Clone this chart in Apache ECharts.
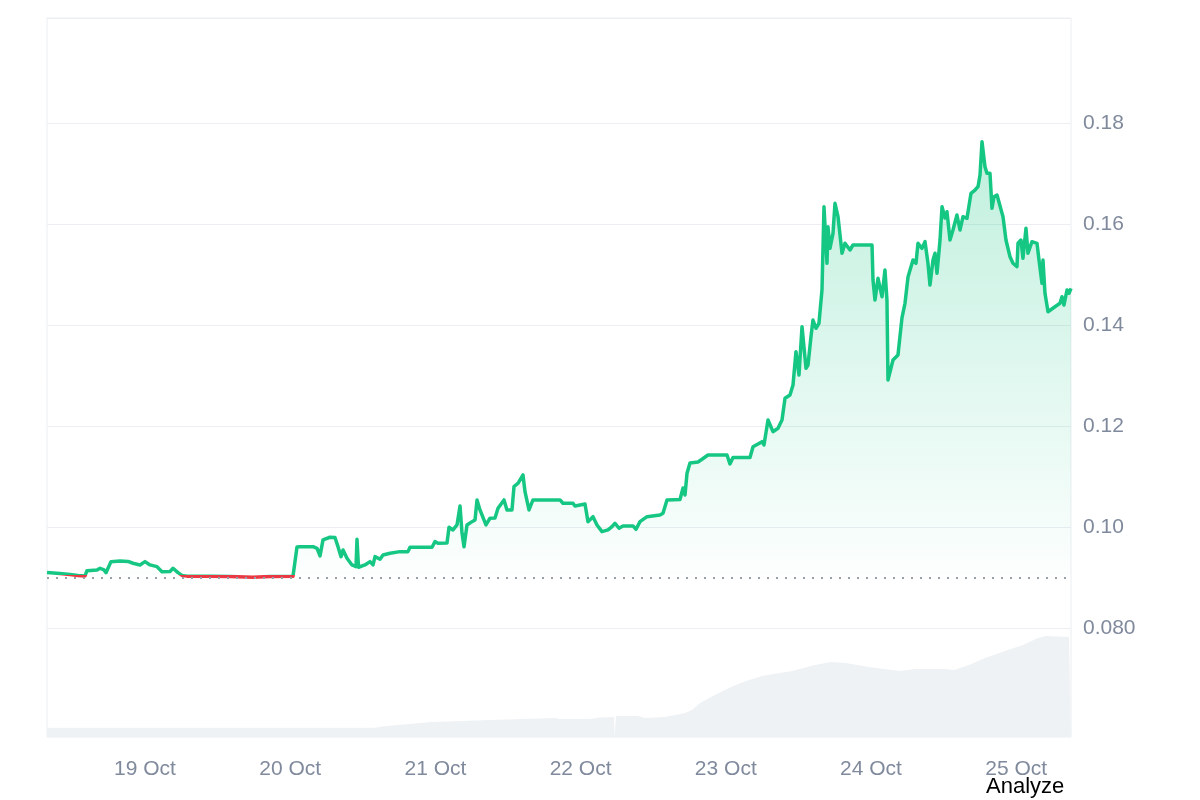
<!DOCTYPE html>
<html>
<head>
<meta charset="utf-8">
<title>Price 7d</title>
<script src="https://cdn.jsdelivr.net/npm/echarts@6/dist/echarts.min.js"></script>
<style>
html, body { margin: 0; padding: 0; background: #fff; }
#chart { width: 1200px; height: 800px; }
</style>
</head>
<body>
<div id="chart"></div>
<script>
// all times are hours after midnight of 18 Oct
var startYear = 2024, startMonth = 9, startDay = 18;
var axisStartHour = 7.8;
var axisEndHour = 177.06;
var basePrice = 0.0905;
var priceMin = 0.0584, priceMax = 0.2008;
var volumeAxisMax = 71.9;

var priceHours = [
    7.80, 9.95, 11.60, 12.93, 14.08, 14.41, 16.07, 16.56, 17.22, 17.55,
    18.38, 19.87, 21.19, 22.02, 23.17, 24.00, 24.83, 25.98, 26.81, 28.13,
    28.63, 29.45, 30.12, 30.94, 34.74, 38.05, 41.85, 44.66, 48.46, 49.12,
    49.62, 51.77, 52.43, 52.93, 53.42, 54.58, 55.40, 55.90, 56.40, 56.73,
    57.39, 58.21, 58.88, 59.04, 59.29, 60.36, 61.19, 61.69, 62.02, 62.84,
    63.34, 64.50, 66.15, 67.47, 67.80, 71.44, 71.93, 72.43, 73.92, 74.25,
    74.91, 75.57, 76.07, 76.40, 76.73, 77.22, 78.05, 78.55, 78.88, 79.37,
    80.36, 81.02, 81.85, 82.35, 83.34, 83.83, 84.66, 84.99, 85.65, 86.48,
    86.81, 87.47, 88.13, 92.60, 93.09, 94.74, 95.07, 96.73, 97.22, 98.05,
    98.71, 99.54, 100.53, 101.19, 101.69, 102.35, 103.01, 104.66, 105.16, 105.82,
    106.98, 109.12, 109.62, 110.28, 112.43, 112.93, 113.26, 113.59, 114.08, 115.40,
    116.07, 117.06, 120.20, 120.69, 121.19, 124.00, 124.50, 125.32, 125.98, 126.31,
    126.98, 127.80, 128.63, 129.29, 129.79, 130.61, 131.11, 131.60, 132.10, 132.60,
    133.26, 133.59, 134.08, 134.41, 134.91, 135.40, 135.90, 136.23, 136.73, 136.89,
    137.22, 137.72, 138.05, 138.55, 139.21, 139.70, 140.53, 141.02, 144.17, 144.33,
    144.66, 145.16, 145.82, 146.31, 146.64, 146.81, 147.14, 147.64, 148.46, 149.12,
    149.62, 150.12, 150.94, 151.44, 151.77, 152.43, 152.93, 153.42, 153.75, 154.25,
    154.58, 154.91, 155.41, 155.74, 156.23, 156.56, 157.06, 157.55, 158.21, 158.71,
    159.21, 159.87, 160.53, 161.19, 161.69, 162.02, 162.35, 162.84, 163.17, 163.67,
    164.00, 164.33, 164.83, 165.16, 165.82, 166.31, 166.98, 167.47, 168.13, 168.30,
    168.79, 169.12, 169.62, 169.95, 170.61, 171.44, 171.77, 172.26, 172.43, 172.76,
    173.26, 174.41, 175.24, 175.57, 175.90, 176.40, 176.73, 177.06
];
var prices = [
    0.09099, 0.09079, 0.09059, 0.09040, 0.09030, 0.09135, 0.09149, 0.09182, 0.09149, 0.09095,
    0.09313, 0.09327, 0.09317, 0.09281, 0.09248, 0.09313, 0.09248, 0.09214, 0.09115, 0.09119,
    0.09182, 0.09095, 0.09040, 0.09026, 0.09024, 0.09020, 0.09004, 0.09020, 0.09024, 0.09604,
    0.09610, 0.09610, 0.09578, 0.09426, 0.09743, 0.09796, 0.09792, 0.09610, 0.09412, 0.09545,
    0.09380, 0.09248, 0.09214, 0.09756, 0.09202, 0.09248, 0.09313, 0.09248, 0.09412, 0.09360,
    0.09446, 0.09479, 0.09511, 0.09511, 0.09598, 0.09598, 0.09709, 0.09677, 0.09683, 0.09994,
    0.09941, 0.10040, 0.10416, 0.09875, 0.09610, 0.10040, 0.10105, 0.10139, 0.10535, 0.10337,
    0.10040, 0.10172, 0.10178, 0.10370, 0.10535, 0.10337, 0.10337, 0.10798, 0.10865, 0.11030,
    0.10699, 0.10337, 0.10535, 0.10535, 0.10469, 0.10469, 0.10416, 0.10455, 0.10105, 0.10204,
    0.10040, 0.09907, 0.09941, 0.10006, 0.10073, 0.09974, 0.10020, 0.10020, 0.09954, 0.10105,
    0.10204, 0.10238, 0.10271, 0.10535, 0.10545, 0.10772, 0.10634, 0.11063, 0.11267, 0.11287,
    0.11341, 0.11426, 0.11426, 0.11248, 0.11376, 0.11376, 0.11590, 0.11644, 0.11689, 0.11624,
    0.12119, 0.11887, 0.11954, 0.12119, 0.12549, 0.12614, 0.12812, 0.13471, 0.13010, 0.13966,
    0.13142, 0.13208, 0.13768, 0.14099, 0.13935, 0.14034, 0.14693, 0.16342, 0.15222, 0.15946,
    0.15519, 0.15816, 0.16410, 0.16144, 0.15420, 0.15618, 0.15485, 0.15584, 0.15584, 0.14891,
    0.14495, 0.14925, 0.14560, 0.15089, 0.14495, 0.12911, 0.12877, 0.13307, 0.13406, 0.14139,
    0.14430, 0.14950, 0.15287, 0.15222, 0.15618, 0.15519, 0.15650, 0.15222, 0.14792, 0.15287,
    0.15420, 0.15024, 0.15683, 0.16342, 0.16119, 0.16244, 0.15683, 0.15881, 0.16178, 0.15881,
    0.16144, 0.16113, 0.16608, 0.16673, 0.16739, 0.16970, 0.17630, 0.17135, 0.17004, 0.17004,
    0.16311, 0.16541, 0.16574, 0.16574, 0.16144, 0.15683, 0.15352, 0.15222, 0.15154, 0.15618,
    0.15683, 0.15321, 0.15915, 0.15420, 0.15650, 0.15618, 0.15287, 0.14826, 0.15287, 0.14628,
    0.14263, 0.14362, 0.14430, 0.14560, 0.14396, 0.14693, 0.14628, 0.14727
];

// volume (arbitrary units, read as bar heights)
var volumeHours = [
    7.80, 62.02, 63.83, 67.64, 71.44, 81.02, 91.77, 92.60, 97.55, 99.21,
    101.52, 101.60, 101.77, 101.85, 105.49, 106.64, 109.95, 113.26, 114.41, 115.74,
    118.21, 120.86, 123.34, 125.98, 130.94, 134.74, 137.39, 139.87, 143.67, 148.79,
    151.27, 156.40, 157.72, 160.20, 162.84, 166.64, 169.12, 171.60, 172.93, 176.73,
    177.06
];
var volumes = [
    0.93, 0.93, 1.1, 1.3, 1.5, 1.7, 1.9, 1.8, 1.8, 1.95,
    2.0, 0, 0, 2.1, 2.1, 1.9, 2.0, 2.4, 2.7, 3.4,
    4.2, 5.0, 5.6, 6.1, 6.6, 7.2, 7.5, 7.4, 7.0, 6.6,
    6.8, 6.8, 6.7, 7.2, 7.9, 8.7, 9.2, 9.9, 10.1, 10.0,
    9.8
];

var gridColor = '#eceef2';
var labelColor = '#808a9d';

function toTime(h) {
    return new Date(startYear, startMonth, startDay).getTime() + h * 3600000;
}

var priceData = [];
for (var i = 0; i < priceHours.length; i++) {
    priceData.push([toTime(priceHours[i]), prices[i]]);
}
var volumeData = [];
for (var j = 0; j < volumeHours.length; j++) {
    volumeData.push([toTime(volumeHours[j]), volumes[j]]);
}

var chart = echarts.init(document.getElementById('chart'));

var option = {
    animation: false,
    backgroundColor: '#fff',
    textStyle: { fontFamily: 'Liberation Sans, Arial, sans-serif' },
    grid: {
        left: 47, right: 129, top: 18, bottom: 63,
        show: true, borderColor: gridColor, borderWidth: 1
    },
    xAxis: {
        type: 'time',
        min: toTime(axisStartHour),
        max: toTime(axisEndHour),
        splitNumber: 7,
        axisLine: { show: false },
        axisTick: { show: false },
        splitLine: { show: false },
        axisLabel: {
            formatter: '{d} {MMM}',
            color: labelColor,
            fontSize: 21,
            margin: 22,
            showMinLabel: false,
            showMaxLabel: false
        }
    },
    yAxis: [
        {
            type: 'value',
            position: 'right',
            min: priceMin,
            max: priceMax,
            splitNumber: 7,
            axisLine: { show: false },
            axisTick: { show: false },
            splitLine: {
                show: true,
                showMinLine: false,
                lineStyle: {
                    width: 1,
                    // 0.06, 0.08 ... 0.18, 0.20, top edge
                    color: ['transparent', gridColor, gridColor, gridColor, gridColor,
                            gridColor, gridColor, 'transparent', gridColor]
                }
            },
            axisLabel: {
                color: labelColor,
                fontSize: 21,
                margin: 12,
                showMinLabel: false,
                showMaxLabel: false,
                formatter: function (v) {
                    if (v < 0.07 || v > 0.19) return '';
                    return v < 0.0999 ? v.toFixed(3) : v.toFixed(2);
                }
            }
        },
        {
            type: 'value',
            min: 0,
            max: volumeAxisMax,
            show: false,
            splitLine: { show: false }
        }
    ],
    visualMap: {
        show: false,
        seriesIndex: 1,
        dimension: 1,
        pieces: [
            { gte: 0, lt: basePrice, color: '#ea3943' },
            { gte: basePrice, lte: 1, color: '#16c784' }
        ]
    },
    series: [
        {
            name: 'Volume',
            type: 'line',
            yAxisIndex: 1,
            data: volumeData,
            showSymbol: false,
            silent: true,
            lineStyle: { width: 0 },
            itemStyle: { color: '#eff2f5' },
            areaStyle: { color: '#eff2f5', opacity: 1 },
            z: 1
        },
        {
            name: 'Price',
            type: 'line',
            data: priceData,
            showSymbol: false,
            lineStyle: { width: 3.5, join: 'round' },
            areaStyle: {
                origin: basePrice,
                opacity: 1,
                color: new echarts.graphic.LinearGradient(0, 0, 0, 1, [
                    { offset: 0, color: 'rgba(22, 199, 132, 0.27)' },
                    { offset: 1, color: 'rgba(22, 199, 132, 0.01)' }
                ])
            },
            markLine: {
                silent: true,
                symbol: 'none',
                label: { show: false },
                lineStyle: { color: '#9aa0a8', width: 2, type: [2, 7] },
                data: [{ yAxis: basePrice }]
            },
            z: 3
        }
    ],
    graphic: [
        {
            type: 'text',
            left: 986,
            top: 776,
            style: { text: 'Analyze', fontSize: 22, fill: '#000', fontFamily: 'Liberation Sans, Arial, sans-serif' }
        }
    ]
};

chart.setOption(option);
</script>
</body>
</html>
